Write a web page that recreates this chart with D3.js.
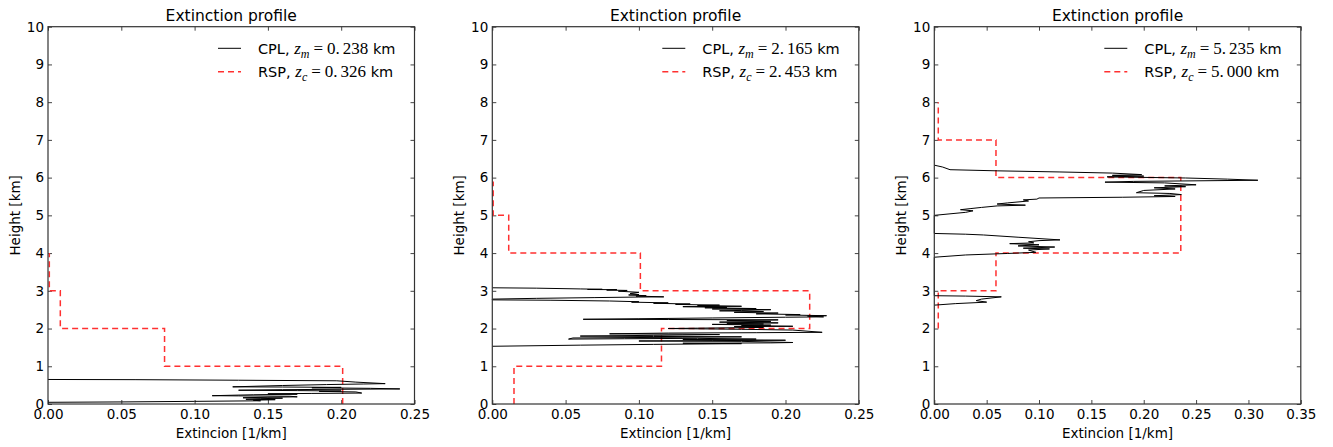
<!DOCTYPE html>
<html>
<head>
<meta charset="utf-8">
<script src="https://cdn.jsdelivr.net/npm/d3@7"></script>
<style>
body { margin: 0; background: #fff; }
text { font-family: 'DejaVu Sans', sans-serif; fill: #000; }
</style>
</head>
<body>
<script>
let width = 1333, height = 447
let panelLeft = [48, 492.3, 934.3]
let panelWidth = 366.5
let plotTop = 26.7, plotBottom = 404

// values
let titles = ['Extinction profile', 'Extinction profile', 'Extinction profile']
let xMax = [0.25, 0.25, 0.35]
let xTicksShort = [0, 0.05, 0.10, 0.15, 0.20, 0.25]
let xTicksLong = [0, 0.05, 0.10, 0.15, 0.20, 0.25, 0.30, 0.35]
let yTicks = [0, 1, 2, 3, 4, 5, 6, 7, 8, 9, 10]
let zm = ['0.238', '2.165', '5.235']
let zc = ['0.326', '2.453', '5.000']

// RSP layers: boundaries (km) and extinction per layer (1/km)
let rspBounds1 = [0, 1, 2, 3, 4]
let rspExt1 = [0.201, 0.0795, 0.0084, 0.0009]
let rspBounds2 = [0, 1, 2, 3, 4, 5, 5.9]
let rspExt2 = [0.0148, 0.1154, 0.2165, 0.101, 0.0112, 0.0006]
let rspBounds3 = [2, 3, 4, 6, 7, 8]
let rspExt3 = [0.0038, 0.0589, 0.2354, 0.0589, 0.0038]

// CPL profiles: [extinction, height]
let cpl1 = [[0, 0.65], [0.06, 0.645], [0.13, 0.63], [0.197, 0.615], [0.21, 0.58], [0.23, 0.54],
    [0.215, 0.53], [0.19, 0.515], [0.16, 0.49], [0.126, 0.455], [0.16, 0.45], [0.20, 0.44],
    [0.18, 0.43], [0.22, 0.415], [0.24, 0.40], [0.20, 0.39], [0.16, 0.38], [0.13, 0.365],
    [0.17, 0.355], [0.20, 0.345], [0.185, 0.335], [0.21, 0.32], [0.214, 0.29], [0.18, 0.28],
    [0.15, 0.27], [0.17, 0.26], [0.14, 0.245], [0.112, 0.22], [0.13, 0.215], [0.165, 0.205],
    [0.17, 0.19], [0.15, 0.18], [0.133, 0.165], [0.16, 0.155], [0.145, 0.14], [0.135, 0.125],
    [0.155, 0.115], [0.14, 0.10], [0.145, 0.085], [0.10, 0.07], [0.05, 0.055], [0, 0.045]]
let cpl2 = [[0, 3.08], [0.03, 3.07], [0.06, 3.05], [0.075, 3.04], [0.065, 3.035], [0.085, 3.03],
    [0.078, 3.02], [0.092, 3.01], [0.086, 2.99], [0.10, 2.96], [0.094, 2.93], [0.10, 2.90],
    [0.093, 2.89], [0.105, 2.87], [0.098, 2.86], [0.117, 2.84], [0.10, 2.835], [0.07, 2.82],
    [0.03, 2.80], [0, 2.78], [0, 2.76], [0.04, 2.75], [0.08, 2.73], [0.10, 2.71], [0.095, 2.70],
    [0.12, 2.68], [0.11, 2.67], [0.135, 2.65], [0.125, 2.64], [0.155, 2.62], [0.14, 2.61],
    [0.17, 2.59], [0.13, 2.58], [0.16, 2.56], [0.145, 2.55], [0.18, 2.53], [0.15, 2.52],
    [0.19, 2.50], [0.17, 2.48], [0.155, 2.47], [0.185, 2.45], [0.165, 2.43], [0.195, 2.41],
    [0.18, 2.39], [0.21, 2.37], [0.20, 2.36], [0.228, 2.34], [0.215, 2.33], [0.226, 2.31],
    [0.20, 2.30], [0.15, 2.28], [0.10, 2.26], [0.062, 2.245], [0.12, 2.24], [0.195, 2.23],
    [0.16, 2.21], [0.19, 2.19], [0.155, 2.17], [0.195, 2.15], [0.16, 2.14], [0.185, 2.12],
    [0.15, 2.11], [0.19, 2.09], [0.17, 2.08], [0.205, 2.06], [0.165, 2.05], [0.185, 2.03],
    [0.14, 2.01], [0.12, 2.00], [0.17, 1.98], [0.205, 1.96], [0.225, 1.90], [0.18, 1.89],
    [0.12, 1.88], [0.08, 1.86], [0.13, 1.85], [0.155, 1.84], [0.11, 1.82], [0.06, 1.80],
    [0.11, 1.79], [0.17, 1.78], [0.13, 1.77], [0.055, 1.75], [0.052, 1.72], [0.09, 1.73],
    [0.14, 1.74], [0.18, 1.72], [0.13, 1.71], [0.16, 1.70], [0.20, 1.69], [0.15, 1.68],
    [0.10, 1.67], [0.17, 1.66], [0.205, 1.63], [0.19, 1.62], [0.13, 1.61], [0.17, 1.60],
    [0.11, 1.58], [0.06, 1.56], [0, 1.53]]
let cpl3 = [[0, 6.33], [0.008, 6.28], [0.015, 6.21], [0.06, 6.18], [0.12, 6.15], [0.17, 6.12],
    [0.198, 6.08], [0.17, 6.06], [0.20, 6.04], [0.165, 6.02], [0.24, 5.99], [0.28, 5.96],
    [0.309, 5.93], [0.27, 5.92], [0.19, 5.90], [0.163, 5.88], [0.22, 5.86], [0.25, 5.81],
    [0.22, 5.78], [0.24, 5.76], [0.21, 5.73], [0.23, 5.70], [0.20, 5.66], [0.193, 5.60],
    [0.225, 5.58], [0.236, 5.55], [0.21, 5.52], [0.23, 5.50], [0.18, 5.48], [0.10, 5.46],
    [0.098, 5.43], [0.085, 5.41], [0.09, 5.38], [0.07, 5.33], [0.06, 5.30], [0.087, 5.27],
    [0.06, 5.25], [0.045, 5.21], [0.035, 5.18], [0.025, 5.15], [0.037, 5.12], [0.03, 5.08],
    [0.015, 5.04], [0, 5.00], [0, 4.52], [0.03, 4.50], [0.047, 4.48], [0.08, 4.42],
    [0.12, 4.35], [0.10, 4.33], [0.09, 4.30], [0.095, 4.27], [0.072, 4.25], [0.10, 4.22],
    [0.08, 4.19], [0.115, 4.16], [0.085, 4.13], [0.11, 4.11], [0.09, 4.08], [0.097, 4.02],
    [0.07, 3.99], [0.03, 3.95], [0, 3.89], [0, 2.87], [0.03, 2.86], [0.064, 2.84],
    [0.045, 2.78], [0.04, 2.74], [0.05, 2.70], [0.02, 2.66], [0, 2.62]]

let panels = [
    { cpl: cpl1, bounds: rspBounds1, ext: rspExt1, xTicks: xTicksShort },
    { cpl: cpl2, bounds: rspBounds2, ext: rspExt2, xTicks: xTicksShort },
    { cpl: cpl3, bounds: rspBounds3, ext: rspExt3, xTicks: xTicksLong }
]

let red = '#ff3030'

let svg = d3
    .select('body').append('svg')
    .attr('width', width).attr('height', height)

let y = d3.scaleLinear().domain([0, 10]).range([plotBottom, plotTop])

panels.forEach((p, i) => {
    let left = panelLeft[i], right = left + panelWidth
    let x = d3.scaleLinear().domain([0, xMax[i]]).range([left, right])
    let g = svg.append('g')

    // inward ticks on all four sides, labels only left and bottom
    g.append('g')
        .attr('transform', `translate(0, ${plotBottom})`)
        .call(d3.axisBottom(x).tickValues(p.xTicks).tickFormat(d3.format('.2f'))
            .tickSizeInner(-4).tickSizeOuter(0).tickPadding(5))
    g.append('g')
        .attr('transform', `translate(0, ${plotTop})`)
        .call(d3.axisTop(x).tickValues(p.xTicks).tickFormat('')
            .tickSizeInner(-4).tickSizeOuter(0))
    g.append('g')
        .attr('transform', `translate(${left}, 0)`)
        .call(d3.axisLeft(y).tickValues(yTicks).tickFormat(d3.format('d'))
            .tickSizeInner(-4).tickSizeOuter(0).tickPadding(4))
    g.append('g')
        .attr('transform', `translate(${right}, 0)`)
        .call(d3.axisRight(y).tickValues(yTicks).tickFormat('')
            .tickSizeInner(-4).tickSizeOuter(0))
    g.selectAll('.domain').remove()
    g.selectAll('.tick line').attr('stroke', '#444')
    g.selectAll('.tick text')
        .attr('font-family', 'DejaVu Sans').attr('font-size', 13.5).attr('fill', '#000')

    // RSP step profile
    let steps = []
    p.ext.forEach((e, k) => {
        steps.push([e, p.bounds[k]])
        steps.push([e, p.bounds[k + 1]])
    })
    let line = d3.line().x(d => x(d[0])).y(d => y(d[1]))
    g.append('path')
        .attr('d', line(steps))
        .attr('fill', 'none')
        .attr('stroke', red)
        .attr('stroke-width', 1.5)
        .attr('stroke-dasharray', '6,4')

    // CPL profile
    g.append('path')
        .attr('d', line(p.cpl))
        .attr('fill', 'none')
        .attr('stroke', '#000')
        .attr('stroke-width', 1)
        .attr('stroke-linejoin', 'miter')

    // frame
    g.append('rect')
        .attr('x', left).attr('y', plotTop)
        .attr('width', panelWidth).attr('height', plotBottom - plotTop)
        .attr('fill', 'none').attr('stroke', '#333').attr('stroke-width', 1.2)

    // title and axis labels
    g.append('text')
        .attr('x', (left + right) / 2).attr('y', 21)
        .attr('text-anchor', 'middle').attr('font-size', 15.5)
        .text(titles[i])
    g.append('text')
        .attr('x', (left + right) / 2).attr('y', 438)
        .attr('text-anchor', 'middle').attr('font-size', 13.5)
        .text('Extincion [1/km]')
    g.append('text')
        .attr('transform', `translate(${left - 28.5}, ${(plotTop + plotBottom) / 2}) rotate(-90)`)
        .attr('text-anchor', 'middle').attr('font-size', 13.5)
        .text('Height [km]')

    // legend
    let legendRows = [
        { name: 'CPL', sub: 'm', value: zm[i], color: '#000', dash: null, width: 1, yy: 48.3 },
        { name: 'RSP', sub: 'c', value: zc[i], color: red, dash: '6,4', width: 1.5, yy: 71.7 }
    ]
    legendRows.forEach(r => {
        g.append('line')
            .attr('x1', left + 170).attr('x2', left + 193)
            .attr('y1', r.yy).attr('y2', r.yy)
            .attr('stroke', r.color).attr('stroke-width', r.width)
            .attr('stroke-dasharray', r.dash)
        let t = g.append('text')
            .attr('x', left + 210).attr('y', r.yy + 5.7)
            .attr('font-size', 14.5)
        let parts = r.value.split('.')
        t.append('tspan').text(r.name + ', ')
        t.append('tspan').attr('font-family', 'Liberation Serif').attr('font-style', 'italic')
            .attr('font-size', 17).text('z')
        t.append('tspan').attr('font-family', 'Liberation Serif').attr('font-style', 'italic')
            .attr('font-size', 12).attr('dy', 3.5).text(r.sub)
        t.append('tspan').attr('font-family', 'Liberation Serif')
            .attr('font-size', 17).attr('dy', -3.5).attr('dx', 4).text('=')
        t.append('tspan').attr('font-family', 'Liberation Serif')
            .attr('font-size', 17).attr('dx', 4).text(parts[0] + '.')
        t.append('tspan').attr('font-family', 'Liberation Serif')
            .attr('font-size', 17).attr('dx', 3).text(parts[1])
        t.append('tspan').text(' km')
    })
})
</script>
</body>
</html>
